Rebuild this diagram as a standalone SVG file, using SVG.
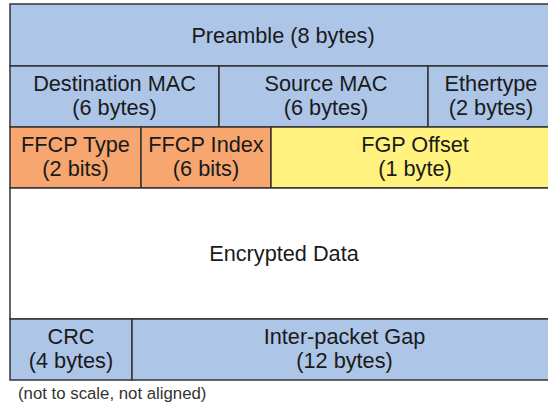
<svg xmlns="http://www.w3.org/2000/svg" width="548" height="404" viewBox="0 0 548 404">
  <style>
    .cell { stroke: #333333; stroke-width: 1.5; }
    .blue { fill: #adc5e7; }
    .orange { fill: #f7a670; }
    .yellow { fill: #fff27e; }
    .white { fill: #ffffff; }
    text { font-family: "Liberation Sans", Arial, sans-serif; font-size: 21.7px; fill: #1a1a1a; text-anchor: middle; }
    .note { font-size: 16.8px; text-anchor: start; fill: #333333; }
  </style>
  <rect width="548" height="404" fill="#ffffff"/>

  <!-- Row 1: preamble -->
  <g id="preamble">
    <rect class="cell blue" x="10" y="4" width="547" height="62"/>
    <text x="283" y="43">Preamble (8 bytes)</text>
  </g>

  <!-- Row 2: MAC header -->
  <g id="dest-mac">
    <rect class="cell blue" x="10" y="66" width="209" height="61"/>
    <text x="114.5" y="91">Destination MAC</text>
    <text x="114.5" y="115">(6 bytes)</text>
  </g>
  <g id="src-mac">
    <rect class="cell blue" x="219" y="66" width="209" height="61"/>
    <text x="326" y="91">Source MAC</text>
    <text x="326" y="115">(6 bytes)</text>
  </g>
  <g id="ethertype">
    <rect class="cell blue" x="428" y="66" width="129" height="61"/>
    <text x="491" y="91">Ethertype</text>
    <text x="491" y="115">(2 bytes)</text>
  </g>

  <!-- Row 3: FFCP fields -->
  <g id="ffcp-type">
    <rect class="cell orange" x="10" y="127" width="131" height="61"/>
    <text x="75.5" y="152">FFCP Type</text>
    <text x="75.5" y="176">(2 bits)</text>
  </g>
  <g id="ffcp-index">
    <rect class="cell orange" x="141" y="127" width="130" height="61"/>
    <text x="206" y="152">FFCP Index</text>
    <text x="206" y="176">(6 bits)</text>
  </g>
  <g id="fgp-offset">
    <rect class="cell yellow" x="271" y="127" width="286" height="61"/>
    <text x="415" y="152">FGP Offset</text>
    <text x="415" y="176">(1 byte)</text>
  </g>

  <!-- Row 4: payload -->
  <g id="encrypted">
    <rect class="cell white" x="10" y="188" width="547" height="131"/>
    <text x="284" y="261">Encrypted Data</text>
  </g>

  <!-- Row 5: trailer -->
  <g id="crc">
    <rect class="cell blue" x="10" y="319" width="122" height="61"/>
    <text x="71" y="344">CRC</text>
    <text x="71" y="368">(4 bytes)</text>
  </g>
  <g id="gap">
    <rect class="cell blue" x="132" y="319" width="425" height="61"/>
    <text x="344.5" y="344">Inter-packet Gap</text>
    <text x="344.5" y="368">(12 bytes)</text>
  </g>

  <g id="connectors"/>

  <text class="note" x="18" y="399">(not to scale, not aligned)</text>
</svg>
